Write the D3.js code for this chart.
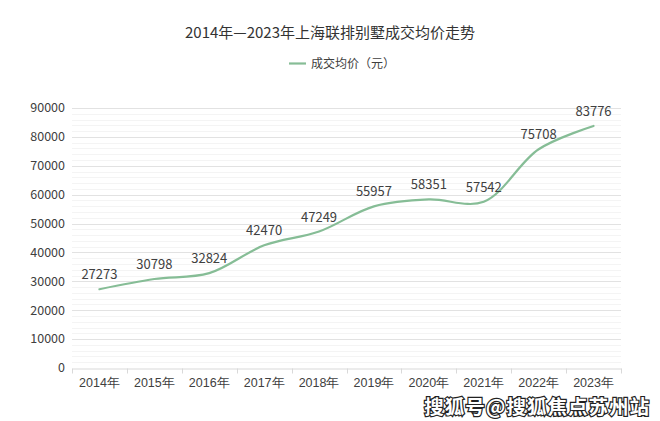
<!DOCTYPE html>
<html><head><meta charset="utf-8">
<script src="https://cdn.jsdelivr.net/npm/d3@7"></script>
<style>body{margin:0;background:#fff;}svg{display:block;font-family:"Microsoft YaHei","Noto Sans CJK SC",sans-serif;}</style>
</head><body>
<svg id="c" width="660" height="421"></svg>
<script>
const categories = ["2014年","2015年","2016年","2017年","2018年","2019年","2020年","2021年","2022年","2023年"];
const values = [27273,30798,32824,42470,47249,55957,58351,57542,75708,83776];
const yTicks = [0,10000,20000,30000,40000,50000,60000,70000,80000,90000];
const title = "2014年—2023年上海联排别墅成交均价走势";
const seriesName = "成交均价（元）";
const watermark = "搜狐号@搜狐焦点苏州站";

const svg = d3.select("#c");
const m = {l:72, r:621, t:108, b:368};
const x = d3.scaleBand().domain(categories).range([m.l, m.r]);
const y = d3.scaleLinear().domain([0,90000]).range([m.b, m.t]);
const col = "#86bd96";

// minor grid
const minor = d3.range(0, 90001, 2000).filter(v => v % 10000 !== 0);
svg.append("g").selectAll("line").data(minor).join("line")
  .attr("x1", m.l).attr("x2", m.r).attr("y1", d => Math.round(y(d))+0.5).attr("y2", d => Math.round(y(d))+0.5)
  .attr("stroke", "#f4f4f4").attr("stroke-width", 1);
// major grid
svg.append("g").selectAll("line").data(yTicks.filter(v=>v>0)).join("line")
  .attr("x1", m.l).attr("x2", m.r).attr("y1", d => Math.round(y(d))+0.5).attr("y2", d => Math.round(y(d))+0.5)
  .attr("stroke", "#e2e2e2").attr("stroke-width", 1);

// y labels
svg.append("g").selectAll("text").data(yTicks).join("text")
  .attr("x", 65).attr("y", d => y(d)).attr("dy", "0.35em").attr("text-anchor", "end")
  .attr("font-size", 12.5).attr("fill", "#404040").text(d => d);

// x axis
const xa = svg.append("g").attr("transform", `translate(0,${Math.round(m.b)+0.5})`)
  .call(d3.axisBottom(x).tickSize(0).tickPadding(10));
xa.select(".domain").attr("stroke", "#d9d9d9");
xa.selectAll("text").attr("font-size", 12.5).attr("fill", "#404040").attr("font-family", "inherit");
// band boundary ticks
const bounds = categories.map(c => x(c)).concat([m.r]);
xa.append("g").selectAll("line").data(bounds).join("line")
  .attr("x1", d => Math.round(d)+0.5).attr("x2", d => Math.round(d)+0.5).attr("y1", 0).attr("y2", 5)
  .attr("stroke", "#d9d9d9");

// line
const cx = c => x(c) + x.bandwidth()/2;
const line = d3.line().x((d,i) => cx(categories[i])).y(d => y(d)).curve(d3.curveCatmullRom.alpha(0.5));
svg.append("path").datum(values).attr("d", line).attr("fill", "none")
  .attr("stroke", col).attr("stroke-width", 2.2).attr("stroke-linecap", "round");

// data labels
svg.append("g").selectAll("text").data(values).join("text")
  .attr("x", (d,i) => cx(categories[i])).attr("y", d => y(d) - 10)
  .attr("text-anchor", "middle").attr("font-size", 13).attr("fill", "#404040").text(d => d);

// title
svg.append("text").attr("x", 330).attr("y", 38).attr("text-anchor", "middle")
  .attr("font-size", 15).attr("fill", "#333").text(title);
// legend
svg.append("line").attr("x1", 289).attr("x2", 306).attr("y1", 63.5).attr("y2", 63.5)
  .attr("stroke", col).attr("stroke-width", 2.2);
svg.append("text").attr("x", 311).attr("y", 63.5).attr("dy", "0.35em")
  .attr("font-size", 12).attr("fill", "#404040").text(seriesName);

// watermark
svg.append("text").attr("x", 650).attr("y", 414).attr("text-anchor", "end")
  .attr("font-size", 19.5).attr("font-weight", "bold").attr("fill", "#fff")
  .attr("letter-spacing", 1)
  .attr("stroke", "#222").attr("stroke-width", 2.4).attr("paint-order", "stroke")
  .text(watermark);
</script>
</body></html>
